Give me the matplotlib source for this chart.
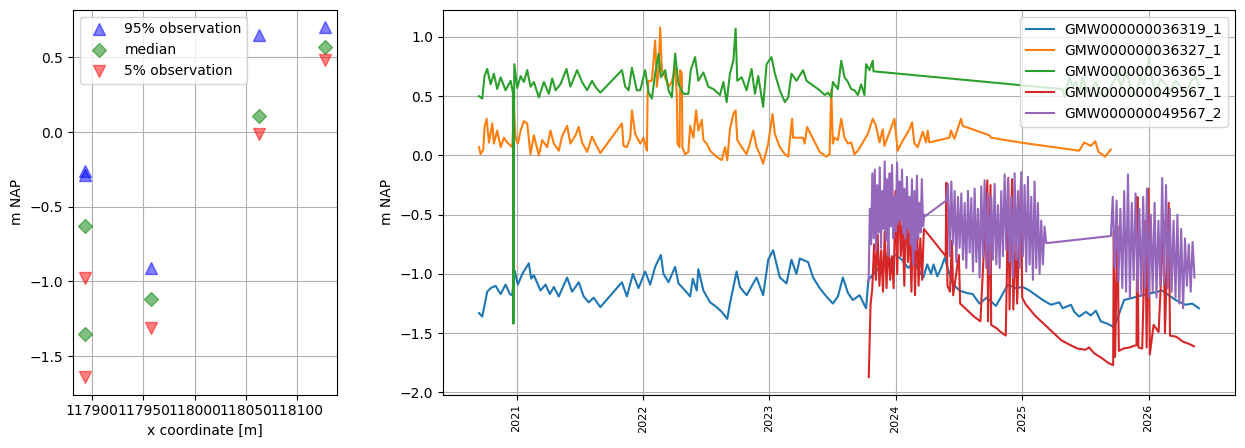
import numpy as np
import pandas as pd
import matplotlib.pyplot as plt
import matplotlib.dates as mdates

# ---- left panel: percentiles per well, against x coordinate
obs_x = [117893, 117893, 117957, 118063, 118127]
p95 = [-0.26, -0.29, -0.91, 0.65, 0.70]
med = [-0.63, -1.35, -1.12, 0.11, 0.57]
p05 = [-0.98, -1.64, -1.31, -0.01, 0.48]

# ---- right panel: head series (time in decimal years, value in m NAP)
blue_t = [2020.703, 2020.729, 2020.768, 2020.795, 2020.834, 2020.874, 2020.913, 2020.947, 2020.966, 2020.984,
          2021.010, 2021.045, 2021.097, 2021.116, 2021.137, 2021.189, 2021.229, 2021.263, 2021.295, 2021.334,
          2021.400, 2021.439, 2021.492, 2021.531, 2021.571, 2021.610, 2021.663, 2021.834, 2021.873, 2021.921,
          2021.965, 2022.018, 2022.058, 2022.097, 2022.142, 2022.163, 2022.203, 2022.255, 2022.282, 2022.334,
          2022.374, 2022.395, 2022.426, 2022.439, 2022.479, 2022.532, 2022.584, 2022.624, 2022.668, 2022.689,
          2022.742, 2022.768, 2022.821, 2022.900, 2022.952, 2022.992, 2023.031, 2023.084, 2023.137, 2023.176,
          2023.216, 2023.242, 2023.308, 2023.347, 2023.400, 2023.452, 2023.504, 2023.544, 2023.583, 2023.623,
          2023.662, 2023.715, 2023.767, 2023.785, 2023.850, 2023.920, 2024.000, 2024.050, 2024.100, 2024.150,
          2024.190, 2024.220, 2024.250, 2024.280, 2024.300, 2024.330, 2024.360, 2024.390, 2024.410, 2024.450,
          2024.504, 2024.560, 2024.609, 2024.662, 2024.720, 2024.793, 2024.830, 2024.886, 2024.950, 2025.004,
          2025.057, 2025.110, 2025.163, 2025.228, 2025.294, 2025.320, 2025.386, 2025.412, 2025.451, 2025.504,
          2025.543, 2025.583, 2025.622, 2025.675, 2025.728, 2025.807, 2025.951, 2026.109, 2026.214, 2026.293,
          2026.346, 2026.399]
blue_v = [-1.33, -1.36, -1.15, -1.12, -1.10, -1.17, -1.09, -1.17, -1.18, -0.97,
          -1.09, -1.00, -0.91, -1.04, -1.01, -1.14, -1.09, -1.17, -1.11, -1.19,
          -1.03, -1.15, -1.07, -1.19, -1.24, -1.20, -1.28, -1.07, -1.19, -1.00,
          -1.12, -0.98, -1.09, -0.94, -0.84, -1.00, -1.07, -0.94, -1.08, -1.14,
          -1.19, -1.04, -1.14, -0.96, -1.14, -1.24, -1.28, -1.32, -1.38, -1.25,
          -0.98, -1.11, -1.18, -1.03, -1.18, -0.88, -0.80, -1.03, -1.08, -0.88,
          -1.00, -0.87, -0.90, -1.03, -1.12, -1.19, -1.25, -1.19, -1.03, -1.16,
          -1.22, -1.18, -1.29, -1.05, -0.97, -0.92, -0.84, -0.88, -0.95, -0.90,
          -0.98, -1.03, -0.92, -1.00, -0.92, -1.02, -0.95, -0.86, -0.95, -1.08,
          -1.14, -1.16, -1.17, -1.25, -1.20, -1.27, -1.20, -1.09, -1.12, -1.11,
          -1.14, -1.18, -1.22, -1.26, -1.24, -1.29, -1.26, -1.32, -1.36, -1.32,
          -1.35, -1.31, -1.40, -1.42, -1.45, -1.22, -1.18, -1.14, -1.22, -1.26,
          -1.25, -1.29]

orange_t = [2020.703, 2020.716, 2020.737, 2020.747, 2020.763, 2020.782, 2020.808, 2020.821, 2020.847, 2020.874,
            2020.900, 2020.926, 2020.966, 2020.979, 2020.992, 2021.010, 2021.032, 2021.058, 2021.084, 2021.110,
            2021.137, 2021.176, 2021.203, 2021.242, 2021.268, 2021.295, 2021.334, 2021.360, 2021.400, 2021.426,
            2021.466, 2021.492, 2021.518, 2021.558, 2021.597, 2021.624, 2021.663, 2021.834, 2021.847, 2021.873,
            2021.900, 2021.913, 2021.939, 2021.979, 2022.005, 2022.018, 2022.032, 2022.037, 2022.045, 2022.071,
            2022.097, 2022.111, 2022.124, 2022.137, 2022.150, 2022.176, 2022.203, 2022.229, 2022.255, 2022.268,
            2022.274, 2022.290, 2022.295, 2022.308, 2022.313, 2022.334, 2022.360, 2022.374, 2022.400, 2022.421,
            2022.439, 2022.466, 2022.479, 2022.505, 2022.532, 2022.571, 2022.624, 2022.650, 2022.668, 2022.689,
            2022.716, 2022.734, 2022.747, 2022.782, 2022.821, 2022.847, 2022.874, 2022.900, 2022.926, 2022.952,
            2022.992, 2023.026, 2023.045, 2023.084, 2023.124, 2023.150, 2023.181, 2023.189, 2023.268, 2023.281,
            2023.300, 2023.347, 2023.400, 2023.452, 2023.478, 2023.491, 2023.504, 2023.517, 2023.544, 2023.570,
            2023.596, 2023.623, 2023.649, 2023.675, 2023.702, 2023.741, 2023.780, 2023.820, 2023.846, 2023.873,
            2023.899, 2023.912, 2023.991, 2024.017, 2024.044, 2024.109, 2024.130, 2024.149, 2024.175, 2024.215,
            2024.241, 2024.254, 2024.267, 2024.425, 2024.438, 2024.465, 2024.517, 2024.530, 2024.741, 2024.754,
            2024.978, 2025.451, 2025.491, 2025.543, 2025.578, 2025.604, 2025.657, 2025.701]
orange_v = [0.07, 0.01, 0.05, 0.24, 0.31, 0.11, 0.27, 0.10, 0.21, 0.07,
            0.15, 0.11, 0.07, 0.38, 0.15, 0.10, 0.21, 0.29, 0.27, 0.01,
            0.17, 0.00, 0.13, 0.07, 0.21, 0.10, 0.04, 0.16, 0.25, 0.10,
            0.17, 0.24, 0.11, 0.03, 0.16, 0.10, 0.02, 0.27, 0.08, 0.07,
            0.15, 0.38, 0.18, 0.10, 0.15, 0.10, 0.04, 0.52, 0.63, 0.63,
            0.97, 0.58, 0.72, 1.08, 0.72, 0.66, 0.58, 0.62, 0.74, 0.52,
            0.10, 0.07, 0.72, 0.69, 0.07, 0.01, 0.03, 0.25, 0.15, 0.38,
            0.21, 0.30, 0.13, 0.10, 0.04, 0.00, -0.04, 0.07, -0.04, 0.22,
            0.35, 0.38, 0.13, 0.07, 0.01, 0.10, 0.21, 0.07, 0.01, -0.07,
            0.10, 0.35, 0.18, 0.07, 0.01, -0.01, 0.31, 0.15, 0.15, 0.10,
            0.24, 0.14, 0.03, -0.01, 0.01, 0.55, 0.10, 0.15, 0.13, 0.31,
            0.15, 0.10, 0.11, 0.01, 0.04, 0.11, 0.18, 0.31, 0.25, 0.11,
            0.22, 0.08, 0.31, 0.04, 0.10, 0.22, 0.28, 0.10, 0.07, 0.20,
            0.11, 0.21, 0.11, 0.15, 0.21, 0.14, 0.31, 0.25, 0.17, 0.15,
            0.11, 0.04, 0.11, 0.08, 0.12, 0.03, -0.01, 0.05]

green_t = [2020.703, 2020.729, 2020.747, 2020.768, 2020.795, 2020.821, 2020.847, 2020.874, 2020.913, 2020.953,
           2020.971, 2020.975, 2020.982, 2021.005, 2021.032, 2021.058, 2021.084, 2021.110, 2021.137, 2021.176,
           2021.216, 2021.255, 2021.282, 2021.308, 2021.347, 2021.395, 2021.426, 2021.479, 2021.518, 2021.558,
           2021.597, 2021.624, 2021.663, 2021.834, 2021.860, 2021.887, 2021.913, 2021.952, 2021.979, 2022.018,
           2022.045, 2022.071, 2022.097, 2022.124, 2022.142, 2022.176, 2022.203, 2022.229, 2022.255, 2022.282,
           2022.321, 2022.360, 2022.379, 2022.413, 2022.439, 2022.479, 2022.518, 2022.558, 2022.610, 2022.637,
           2022.663, 2022.689, 2022.716, 2022.734, 2022.747, 2022.782, 2022.821, 2022.860, 2022.887, 2022.913,
           2022.952, 2022.979, 2023.018, 2023.045, 2023.084, 2023.124, 2023.150, 2023.176, 2023.216, 2023.268,
           2023.295, 2023.400, 2023.439, 2023.466, 2023.491, 2023.504, 2023.544, 2023.570, 2023.596, 2023.623,
           2023.649, 2023.675, 2023.702, 2023.728, 2023.754, 2023.767, 2023.794, 2023.820, 2023.825, 2025.320,
           2025.334, 2025.373, 2025.399, 2025.425, 2025.452, 2025.478, 2025.517, 2025.557, 2025.583, 2025.609,
           2025.649, 2025.688, 2025.728, 2025.754, 2025.780, 2025.807, 2025.833, 2025.859, 2025.899, 2025.938,
           2025.965, 2026.004, 2026.030, 2026.057, 2026.096, 2026.136, 2026.162, 2026.215, 2026.254, 2026.294,
           2026.333, 2026.372, 2026.399]
green_v = [0.50, 0.48, 0.67, 0.73, 0.60, 0.69, 0.56, 0.66, 0.55, 0.63,
           0.53, -1.42, 0.77, 0.57, 0.67, 0.62, 0.72, 0.58, 0.62, 0.49,
           0.62, 0.52, 0.65, 0.55, 0.60, 0.73, 0.58, 0.72, 0.62, 0.55,
           0.63, 0.58, 0.53, 0.72, 0.58, 0.55, 0.74, 0.55, 0.55, 0.72,
           0.53, 0.48, 0.69, 0.86, 0.66, 0.72, 0.55, 0.49, 0.86, 0.60,
           0.52, 0.52, 0.72, 0.83, 0.63, 0.70, 0.58, 0.56, 0.51, 0.62,
           0.45, 0.69, 0.80, 1.07, 0.63, 0.66, 0.55, 0.73, 0.52, 0.67,
           0.41, 0.77, 0.83, 0.69, 0.55, 0.45, 0.49, 0.69, 0.63, 0.72,
           0.63, 0.55, 0.51, 0.53, 0.49, 0.62, 0.56, 0.80, 0.66, 0.62,
           0.56, 0.55, 0.51, 0.60, 0.51, 0.77, 0.72, 0.80, 0.71, 0.56,
           0.49, 0.66, 0.58, 0.62, 0.53, 0.66, 0.53, 0.58, 0.62, 0.53,
           0.49, 0.56, 0.63, 0.70, 0.58, 0.65, 0.70, 0.55, 0.51, 0.67,
           0.60, 0.83, 0.63, 0.53, 0.65, 0.60, 0.53, 0.63, 0.58, 0.53,
           0.62, 0.67, 0.59]

# red: dense logger burst first, then the sparser record
red1_span = (2023.788, 2024.224)
red1_v = [-1.87, -1.26, -1.12, -0.75, -1.05, -0.67, -1.10, -0.80, -1.15, -0.64,
          -1.12, -0.72, -1.05, -0.85, -1.12, -0.30, -1.00, -0.27, -0.85, -0.55,
          -1.10, -0.35, -0.90, -0.60, -1.15, -0.45, -1.18, -0.50, -1.10, -0.70,
          -1.05, -0.62]
red2_t = [2024.396, 2024.401, 2024.410, 2024.430, 2024.445, 2024.455, 2024.500, 2024.510, 2024.560, 2024.620,
          2024.670, 2024.725, 2024.730, 2024.750, 2024.755, 2024.800, 2024.830, 2024.870, 2024.880, 2024.890,
          2024.900, 2024.920, 2024.930, 2024.950, 2024.960, 2024.990, 2025.000, 2025.030, 2025.100, 2025.180,
          2025.250, 2025.310, 2025.380, 2025.440, 2025.500, 2025.530, 2025.570, 2025.630, 2025.680, 2025.720,
          2025.725, 2025.735, 2025.755, 2025.765, 2025.800, 2025.850, 2025.905, 2025.912, 2025.920, 2025.950,
          2025.975, 2025.985, 2026.000, 2026.010, 2026.040, 2026.080, 2026.120, 2026.130, 2026.160, 2026.170,
          2026.220, 2026.270, 2026.320, 2026.360]
red2_v = [-0.85, -0.23, -1.10, -1.15, -0.72, -1.18, -0.84, -1.25, -1.30, -1.36,
          -1.40, -0.21, -1.40, -0.25, -1.43, -1.46, -1.49, -1.52, -0.95, -0.19,
          -1.30, -0.20, -1.30, -0.65, -1.25, -0.22, -1.20, -1.26, -1.35, -1.43,
          -1.50, -1.56, -1.60, -1.63, -1.64, -1.62, -1.67, -1.71, -1.75, -1.77,
          -0.64, -1.70, -0.60, -1.65, -1.63, -1.62, -1.60, -0.35, -1.62, -1.63,
          -0.55, -1.62, -0.28, -1.68, -1.43, -1.49, -0.55, -1.50, -0.40, -1.52,
          -1.53, -1.57, -1.59, -1.61]

# purple: three logger bursts
purple1_span = (2023.787, 2024.237)
purple1_v = [-1.06, -0.45, -0.75, -0.15, -0.70, -0.12, -0.80, -0.25, -0.65, -0.10,
             -0.78, -0.30, -0.62, -0.05, -0.72, -0.20, -0.85, -0.15, -0.60, -0.08,
             -0.70, -0.35, -0.64, -0.06, -0.58, -0.22, -0.55, -0.12, -0.66, -0.28,
             -0.70, -0.18, -0.62, -0.35, -0.75, -0.20, -0.92, -0.30, -0.80, -0.17,
             -0.70, -0.40, -0.65, -0.20, -0.60, -0.50, -0.51]
purple2_span = (2024.401, 2025.190)
purple2_v = [-0.38, -0.24, -0.85, -0.22, -0.75, -0.30, -0.90, -0.35, -0.78, -0.32,
             -0.88, -0.40, -0.95, -0.30, -0.82, -0.36, -0.98, -0.28, -0.90, -0.45,
             -1.03, -0.26, -0.85, -0.21, -0.95, -0.32, -1.00, -0.35, -0.88, -0.24,
             -0.92, -0.42, -0.95, -0.30, -0.85, -0.16, -0.80, -0.20, -0.90, -0.35,
             -1.03, -0.15, -0.88, -0.30, -0.95, -0.14, -0.85, -0.25, -0.98, -0.18,
             -0.92, -0.35, -1.05, -0.22, -0.95, -0.40, -1.00, -0.55, -0.92, -0.60,
             -0.74]
purple3_span = (2025.702, 2026.364)
purple3_v = [-0.68, -0.35, -0.95, -0.38, -1.06, -0.45, -1.12, -0.30, -1.15, -0.16,
             -1.20, -0.40, -1.05, -0.32, -1.15, -0.45, -1.18, -0.35, -1.12, -0.28,
             -1.20, -0.50, -1.15, -0.40, -1.20, -0.55, -1.10, -0.19, -1.08, -0.25,
             -1.12, -0.45, -1.15, -0.55, -1.20, -0.50, -1.25, -0.62, -1.29, -0.70,
             -1.10, -0.75, -1.15, -0.73, -1.03]

names = ["GMW000000036319_1", "GMW000000036327_1", "GMW000000036365_1",
         "GMW000000049567_1", "GMW000000049567_2"]


def to_dates(years):
    years = np.asarray(years, dtype=float)
    y0 = np.floor(years).astype(int)
    start = pd.to_datetime(pd.Series(y0).astype(str) + "-01-01")
    end = pd.to_datetime(pd.Series(y0 + 1).astype(str) + "-01-01")
    return (start + (end - start) * (years - y0)).values


def burst(span, vals):
    # regular logger sampling between first and last reading
    return list(np.linspace(span[0], span[1], len(vals)))


red_t = burst(red1_span, red1_v) + red2_t
red_v = red1_v + red2_v
purple_t = burst(purple1_span, purple1_v) + burst(purple2_span, purple2_v) + burst(purple3_span, purple3_v)
purple_v = purple1_v + purple2_v + purple3_v

series = [(blue_t, blue_v), (orange_t, orange_v), (green_t, green_v),
          (red_t, red_v), (purple_t, purple_v)]

fig = plt.figure(figsize=(12.45, 4.48), dpi=100)
ax1 = fig.add_axes([0.0586, 0.1194, 0.2120, 0.8583])
ax2 = fig.add_axes([0.3558, 0.1194, 0.6361, 0.8583])

ax1.plot(obs_x, p95, "^", color="blue", alpha=0.5, ms=8, label="95% observation")
ax1.plot(obs_x, med, "D", color="green", alpha=0.5, ms=7, label="median")
ax1.plot(obs_x, p05, "v", color="red", alpha=0.5, ms=8, label="5% observation")
ax1.set_xlabel("x coordinate [m]")
ax1.set_ylabel("m NAP")
ax1.grid(True)
ax1.legend(loc="upper left")

for (t, v), name in zip(series, names):
    ax2.plot(to_dates(t), v, label=name)
ax2.set_ylabel("m NAP")
ax2.grid(True)
ax2.xaxis.set_major_locator(mdates.YearLocator())
ax2.xaxis.set_major_formatter(mdates.DateFormatter("%Y"))
for lbl in ax2.get_xticklabels():
    lbl.set_rotation(90)
    lbl.set_fontsize(8)
ax2.legend(loc="upper right")

fig.savefig("out.png")
